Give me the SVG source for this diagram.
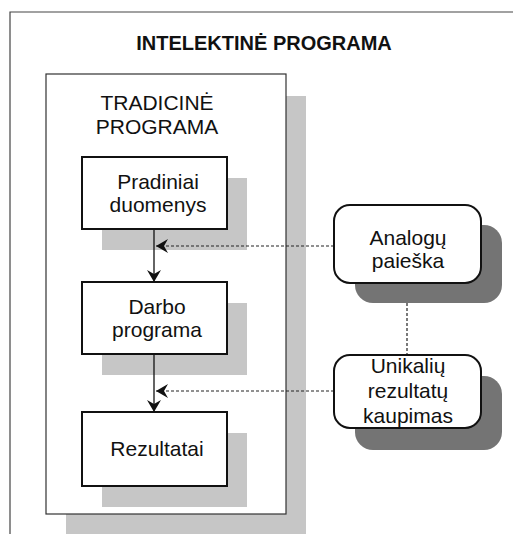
<svg xmlns="http://www.w3.org/2000/svg" width="513" height="534" viewBox="0 0 513 534">
<defs>
<style>
text{font-family:"Liberation Sans",Arial,sans-serif;font-size:21px;fill:#111;text-anchor:middle}
.title{font-weight:bold;font-size:20px}
.box{fill:#fff;stroke:#111;stroke-width:2}
.frame{fill:#fff;stroke:#333;stroke-width:1.2}
.sh{fill:#c6c6c6}
.dsh{fill:#747474}
.solid{stroke:#111;stroke-width:1.3;fill:none}
.dash{stroke:#222;stroke-width:1.2;fill:none;stroke-dasharray:3 2}
</style>
<marker id="ah" viewBox="0 0 12 14" refX="12" refY="7" markerWidth="12" markerHeight="14" markerUnits="userSpaceOnUse" orient="auto">
<path d="M0,0 L12,7 L0,14 L4,7 Z" fill="#111"/>
</marker>
</defs>
<rect width="513" height="534" fill="#fff"/>
<g id="intelektine">
<path d="M10,534 V12 H513" fill="none" stroke="#444" stroke-width="1.2"/>
<text class="title" x="264" y="50">INTELEKTINĖ PROGRAMA</text>
</g>
<g id="tradicine">
<rect class="sh" x="66" y="96" width="240" height="440"/>
<rect class="frame" x="46" y="74" width="240" height="440"/>
<text x="157" y="110">TRADICINĖ</text>
<text x="157" y="134">PROGRAMA</text>
</g>
<g id="pradiniai">
<rect class="sh" x="102" y="178" width="145" height="72"/>
<rect class="box" x="82" y="157" width="145" height="72"/>
<text x="158" y="189">Pradiniai</text>
<text x="158" y="212">duomenys</text>
</g>
<g id="darbo">
<rect class="sh" x="102" y="303" width="145" height="72"/>
<rect class="box" x="82" y="282" width="145" height="72"/>
<text x="157" y="314">Darbo</text>
<text x="157" y="337">programa</text>
</g>
<g id="rezultatai">
<rect class="sh" x="102" y="433" width="145" height="74"/>
<rect class="box" x="82" y="412" width="145" height="74"/>
<text x="157" y="456">Rezultatai</text>
</g>
<g id="connectors">
<line class="dash" x1="407" y1="283" x2="407" y2="355"/>
<line class="solid" x1="154" y1="229" x2="154" y2="282" marker-end="url(#ah)"/>
<line class="solid" x1="154" y1="354" x2="154" y2="412" marker-end="url(#ah)"/>
<line class="dash" x1="334" y1="246" x2="156" y2="246" marker-end="url(#ah)"/>
<line class="dash" x1="334" y1="391" x2="156" y2="391" marker-end="url(#ah)"/>
</g>
<g id="analogu">
<rect class="dsh" x="355" y="225" width="147" height="78" rx="18"/>
<rect class="box" x="334" y="205" width="147" height="78" rx="16"/>
<text x="408" y="245">Analogų</text>
<text x="408" y="268">paieška</text>
</g>
<g id="unikaliu">
<rect class="dsh" x="355" y="376" width="147" height="74" rx="18"/>
<rect class="box" x="334" y="355" width="147" height="73" rx="16"/>
<text x="408" y="373">Unikalių</text>
<text x="408" y="398">rezultatų</text>
<text x="408" y="423">kaupimas</text>
</g>
</svg>
